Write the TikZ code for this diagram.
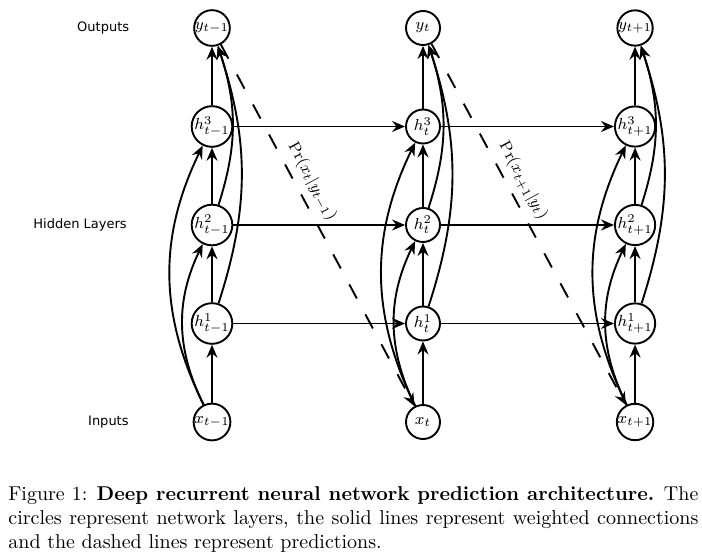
\documentclass[tikz,border=0pt]{standalone}
\usepackage{fontspec}
\usepackage{amsmath}
\newfontfamily\sidefont{DejaVu Sans}
\usetikzlibrary{arrows.meta,calc,positioning}

\begin{document}
\begin{tikzpicture}[>={Stealth[length=6.5pt,width=5.5pt,inset=2.2pt]},
            layer/.style={circle, line width=0.95pt, draw=black, minimum size=17pt, inner sep=0pt, font=\footnotesize},
            wire/.style={->, line width=0.95pt},
            side/.style={font=\sidefont\fontsize{6.5}{8}\selectfont},
            pred/.style={->, line width=0.95pt, dash pattern=on 8pt off 9pt}]
            \useasboundingbox (0,0) rectangle (351pt,276.5pt);
            \coordinate (r) at (105.5pt,0);
            \coordinate (u) at (0,49.25pt);
            \coordinate (o) at (106pt,65.5pt);

            % time t-1
            \node[layer] (x1) at ($(o)+0*(r)+0*(u)$) {$x_{t-1}$};
            \node[layer] (h11) at ($(o)+0*(r)+1*(u)$) {$h^1_{t-1}$};
            \node[layer] (h21) at ($(o)+0*(r)+2*(u)$) {$h^2_{t-1}$};
            \node[layer] (h31) at ($(o)+0*(r)+3*(u)$) {$h^3_{t-1}$};
            \node[layer] (y1) at ($(o)+0*(r)+4*(u)$) {$y_{t-1}$};

            % time t
            \node[layer] (x2) at ($(o)+1*(r)+0*(u)$) {$x_{t}$};
            \node[layer] (h12) at ($(o)+1*(r)+1*(u)$) {$h^1_{t}$};
            \node[layer] (h22) at ($(o)+1*(r)+2*(u)$) {$h^2_{t}$};
            \node[layer] (h32) at ($(o)+1*(r)+3*(u)$) {$h^3_{t}$};
            \node[layer] (y2) at ($(o)+1*(r)+4*(u)$) {$y_{t}$};

            % time t+1
            \node[layer] (x3) at ($(o)+2.005*(r)+0*(u)$) {$x_{t+1}$};
            \node[layer] (h13) at ($(o)+2.005*(r)+1*(u)$) {$h^1_{t+1}$};
            \node[layer] (h23) at ($(o)+2.005*(r)+2*(u)$) {$h^2_{t+1}$};
            \node[layer] (h33) at ($(o)+2.005*(r)+3*(u)$) {$h^3_{t+1}$};
            \node[layer] (y3) at ($(o)+2.005*(r)+4*(u)$) {$y_{t+1}$};

            \node[side, left=28.5pt of y1] (outs) {Outputs};
            \node[side, left=28.5pt of h21] (hids) {Hidden Layers};
            \node[side, left=28.5pt of x1] (ins) {Inputs};

            % columns
            \path[wire] (x1) edge (h11) (h11) edge (h21) (h21) edge (h31) (h31) edge (y1);
            \path[wire] (x2) edge (h12) (h12) edge (h22) (h22) edge (h32) (h32) edge (y2);
            \path[wire] (x3) edge (h13) (h13) edge (h23) (h23) edge (h33) (h33) edge (y3);

            % skip connections
            \path[wire] (x1) edge[bend left=26] (h21) (x1) edge[bend left=26] (h31);
            \path[wire] (h11) edge[bend right=18] (y1) (h21) edge[bend right=18] (y1);
            \path[wire] (x2) edge[bend left=26] (h22) (x2) edge[bend left=26] (h32);
            \path[wire] (h12) edge[bend right=18] (y2) (h22) edge[bend right=18] (y2);
            \path[wire] (x3) edge[bend left=26] (h23) (x3) edge[bend left=26] (h33);
            \path[wire] (h13) edge[bend right=18] (y3) (h23) edge[bend right=18] (y3);

            % recurrent connections
            \path[wire] (h11) edge (h12) (h12) edge (h13);
            \path[wire] (h21) edge (h22) (h22) edge (h23);
            \path[wire] (h31) edge (h32) (h32) edge (h33);

            % predictions
            \path[pred] (y1) edge node[sloped, above, pos=0.4, font=\footnotesize]{$\Pr(x_t|y_{t-1})$} (x2);
            \path[pred] (y2) edge node[sloped, above, pos=0.4, font=\footnotesize]{$\Pr(x_{t+1}|y_t)$} (x3);

            \node[anchor=north west, inner sep=0pt, text width=345pt, align=justify] (cap) at (4pt,33.4pt)
            {Figure 1: \textbf{Deep recurrent neural network prediction architecture.} The circles represent network layers, the solid lines represent weighted connections and the dashed lines represent predictions.};

        \end{tikzpicture}
\end{document}
